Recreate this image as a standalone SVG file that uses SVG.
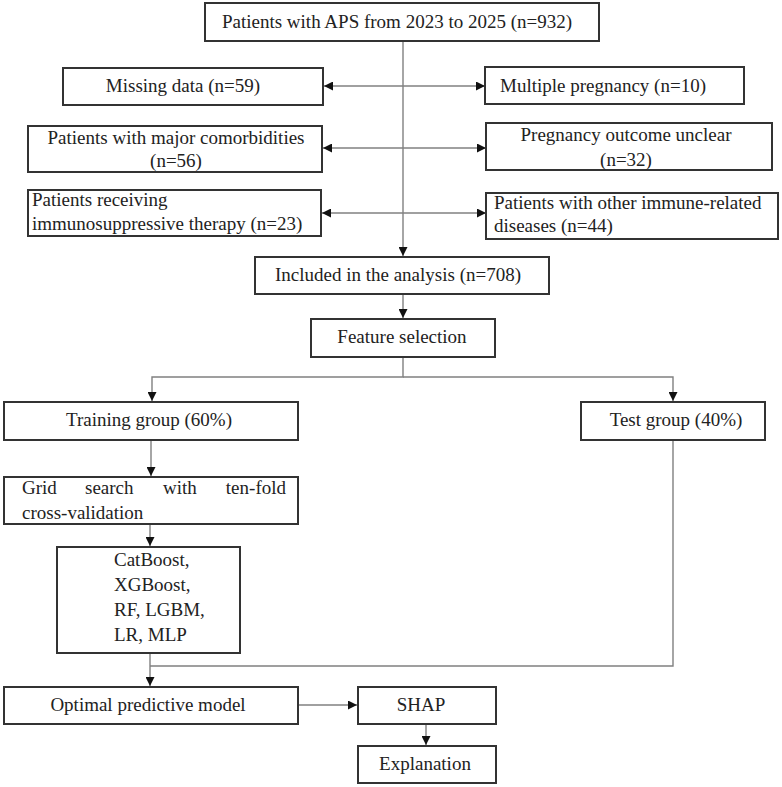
<svg xmlns="http://www.w3.org/2000/svg" width="782" height="787" viewBox="0 0 782 787">
<style>
.box{fill:#fff;stroke:#333;stroke-width:2}
.t{font-family:"Liberation Serif","Times New Roman",serif;font-size:19px;fill:#222}
.c{text-anchor:middle}
.ln{fill:none;stroke:#808080;stroke-width:1.4}
</style>
<defs>
<marker id="ah" viewBox="0 0 10 10" refX="10" refY="5" markerWidth="9" markerHeight="9" markerUnits="userSpaceOnUse" orient="auto-start-reverse">
<path d="M0,0 L10,5 L0,10 z" fill="#111"/>
</marker>
</defs>
<rect width="782" height="787" fill="#fff"/>
<g id="connectors">
<line class="ln" x1="403" y1="41" x2="403" y2="256" marker-end="url(#ah)"/>
<line class="ln" x1="324" y1="86" x2="485" y2="86" marker-start="url(#ah)" marker-end="url(#ah)"/>
<line class="ln" x1="323" y1="148" x2="486" y2="148" marker-start="url(#ah)" marker-end="url(#ah)"/>
<line class="ln" x1="322" y1="213" x2="486" y2="213" marker-start="url(#ah)" marker-end="url(#ah)"/>
<line class="ln" x1="403" y1="295" x2="403" y2="318" marker-end="url(#ah)"/>
<polyline class="ln" points="403,357 403,377 152,377 152,401" marker-end="url(#ah)"/>
<polyline class="ln" points="403,377 673,377 673,401" marker-end="url(#ah)"/>
<line class="ln" x1="151" y1="440" x2="151" y2="476" marker-end="url(#ah)"/>
<line class="ln" x1="150" y1="524" x2="150" y2="546" marker-end="url(#ah)"/>
<line class="ln" x1="150" y1="653" x2="150" y2="686" marker-end="url(#ah)"/>
<polyline class="ln" points="673,440 673,666 150,666"/>
<line class="ln" x1="298" y1="705" x2="357" y2="705" marker-end="url(#ah)"/>
<line class="ln" x1="426" y1="724" x2="426" y2="745" marker-end="url(#ah)"/>
</g>
<g id="n_total"><rect class="box" x="205" y="3" width="394" height="38"/><text class="t c" x="397" y="28">Patients with APS from 2023 to 2025 (n=932)</text></g>
<g id="n_missing"><rect class="box" x="63" y="68" width="260" height="37"/><text class="t c" x="183" y="92">Missing data (n=59)</text></g>
<g id="n_multiple"><rect class="box" x="485" y="67" width="259" height="37"/><text class="t c" x="603" y="92">Multiple pregnancy (n=10)</text></g>
<g id="n_comorb"><rect class="box" x="28" y="126" width="294" height="46"/><text class="t c" x="176" y="144">Patients with major comorbidities</text><text class="t c" x="176" y="167">(n=56)</text></g>
<g id="n_outcome"><rect class="box" x="486" y="123" width="286" height="47"/><text class="t c" x="626" y="141">Pregnancy outcome unclear</text><text class="t c" x="626" y="166">(n=32)</text></g>
<g id="n_immuno"><rect class="box" x="28" y="190" width="293" height="46"/><text class="t" x="32" y="206">Patients receiving</text><text class="t" x="32" y="230">immunosuppressive therapy (n=23)</text></g>
<g id="n_other"><rect class="box" x="486" y="193" width="292" height="46"/><text class="t" x="494" y="209">Patients with other immune-related</text><text class="t" x="494" y="232">diseases (n=44)</text></g>
<g id="n_included"><rect class="box" x="255" y="257" width="294" height="37"/><text class="t c" x="398" y="281">Included in the analysis (n=708)</text></g>
<g id="n_feature"><rect class="box" x="311" y="319" width="184" height="38"/><text class="t c" x="402" y="343">Feature selection</text></g>
<g id="n_training"><rect class="box" x="4" y="402" width="294" height="38"/><text class="t c" x="149" y="426">Training group (60%)</text></g>
<g id="n_test"><rect class="box" x="581" y="402" width="184" height="38"/><text class="t c" x="676" y="426">Test group (40%)</text></g>
<g id="n_grid"><rect class="box" x="4" y="477" width="294" height="47"/><text class="t" y="494"><tspan x="22">Grid</tspan><tspan x="85">search</tspan><tspan x="163">with</tspan><tspan x="286" text-anchor="end">ten-fold</tspan></text><text class="t" x="22" y="519">cross-validation</text></g>
<g id="n_models"><rect class="box" x="57" y="547" width="183" height="106"/><text class="t" x="114" y="566">CatBoost,</text><text class="t" x="114" y="591">XGBoost,</text><text class="t" x="114" y="616">RF, LGBM,</text><text class="t" x="114" y="641">LR, MLP</text></g>
<g id="n_optimal"><rect class="box" x="4" y="687" width="294" height="37"/><text class="t c" x="148" y="711">Optimal predictive model</text></g>
<g id="n_shap"><rect class="box" x="358" y="687" width="138" height="37"/><text class="t c" x="421" y="711">SHAP</text></g>
<g id="n_expl"><rect class="box" x="358" y="746" width="138" height="37"/><text class="t c" x="425" y="770">Explanation</text></g>
</svg>
